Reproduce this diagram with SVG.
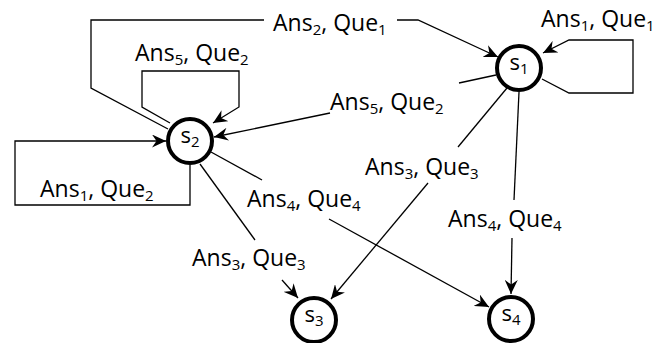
<svg xmlns="http://www.w3.org/2000/svg" width="654" height="343" viewBox="0 0 654 343">
<style>
  .node circle { fill: #fff; stroke: #000; stroke-width: 4; }
  .lbl { font-family: "Open Sans", "Noto Sans", sans-serif; font-size: 23px; fill: #000; }
  .sub { font-size: 15px; }
  .nl { font-family: "Open Sans", "Noto Sans", sans-serif; font-size: 22px; fill: #000; text-anchor: middle; }
  .edge { fill: none; stroke: #000; stroke-width: 1.3; }
  .arr { marker-end: url(#ah); }
</style>
<defs>
  <marker id="ah" viewBox="0 0 14 13" refX="14" refY="6.5" markerWidth="14" markerHeight="13" markerUnits="userSpaceOnUse" orient="auto">
    <path d="M0,0 L14,6.5 L0,13 L4.5,6.5 Z" fill="#000"/>
  </marker>
</defs>
<rect width="654" height="343" fill="#fff"/>

<g id="connectors">
  <!-- s2 -> s1 via top -->
  <polyline class="edge" points="168,129 91,88 91,20 264,20"/>
  <polyline class="edge arr" points="397,20 418,20 498,57"/>
  <!-- s2 self loop top -->
  <polyline class="edge arr" points="170,123 142,107 142,71 239,71 239,107 213,123"/>
  <!-- s1 -> s2 -->
  <polyline class="edge" points="496,75 459,83"/>
  <polyline class="edge arr" points="330,113 214,137"/>
  <!-- s2 self loop left -->
  <polyline class="edge arr" points="190,165 190,205 15,205 15,141 166,141"/>
  <!-- s1 self loop -->
  <polyline class="edge arr" points="542,79 569,93 633,93 633,40 569,40 543,53"/>
  <!-- s1 -> s3 -->
  <polyline class="edge" points="507,88 458,147"/>
  <polyline class="edge arr" points="428,183 331,299"/>
  <!-- s1 -> s4 -->
  <polyline class="edge" points="519,92 514,200"/>
  <polyline class="edge arr" points="512,238 511,294"/>
  <!-- s2 -> s4 -->
  <polyline class="edge" points="211,152 262,180"/>
  <polyline class="edge arr" points="329,219 489,307"/>
  <!-- s2 -> s3 -->
  <polyline class="edge" points="200,164 255,240"/>
  <polyline class="edge arr" points="282,280 298,298"/>
</g>

<g id="edge-labels">
  <text class="lbl" x="273" y="31">Ans<tspan class="sub" dy="4">2</tspan><tspan dy="-4">, Que</tspan><tspan class="sub" dy="4">1</tspan></text>
  <text class="lbl" x="135" y="61">Ans<tspan class="sub" dy="4">5</tspan><tspan dy="-4">, Que</tspan><tspan class="sub" dy="4">2</tspan></text>
  <text class="lbl" x="541" y="27">Ans<tspan class="sub" dy="4">1</tspan><tspan dy="-4">, Que</tspan><tspan class="sub" dy="4">1</tspan></text>
  <text class="lbl" x="330" y="110">Ans<tspan class="sub" dy="4">5</tspan><tspan dy="-4">, Que</tspan><tspan class="sub" dy="4">2</tspan></text>
  <text class="lbl" x="40" y="197">Ans<tspan class="sub" dy="4">1</tspan><tspan dy="-4">, Que</tspan><tspan class="sub" dy="4">2</tspan></text>
  <text class="lbl" x="247" y="207">Ans<tspan class="sub" dy="4">4</tspan><tspan dy="-4">, Que</tspan><tspan class="sub" dy="4">4</tspan></text>
  <text class="lbl" x="192" y="266">Ans<tspan class="sub" dy="4">3</tspan><tspan dy="-4">, Que</tspan><tspan class="sub" dy="4">3</tspan></text>
  <text class="lbl" x="365" y="175">Ans<tspan class="sub" dy="4">3</tspan><tspan dy="-4">, Que</tspan><tspan class="sub" dy="4">3</tspan></text>
  <text class="lbl" x="448" y="227">Ans<tspan class="sub" dy="4">4</tspan><tspan dy="-4">, Que</tspan><tspan class="sub" dy="4">4</tspan></text>
</g>

<g id="s1" class="node">
  <circle cx="519" cy="68" r="22"/>
  <text class="nl" x="519" y="70">s<tspan class="sub" dy="4">1</tspan></text>
</g>
<g id="s2" class="node">
  <circle cx="190" cy="141" r="22"/>
  <text class="nl" x="190" y="143">s<tspan class="sub" dy="4">2</tspan></text>
</g>
<g id="s3" class="node">
  <circle cx="314" cy="320" r="22"/>
  <text class="nl" x="314" y="322">s<tspan class="sub" dy="4">3</tspan></text>
</g>
<g id="s4" class="node">
  <circle cx="511" cy="319" r="22"/>
  <text class="nl" x="511" y="321">s<tspan class="sub" dy="4">4</tspan></text>
</g>
</svg>
